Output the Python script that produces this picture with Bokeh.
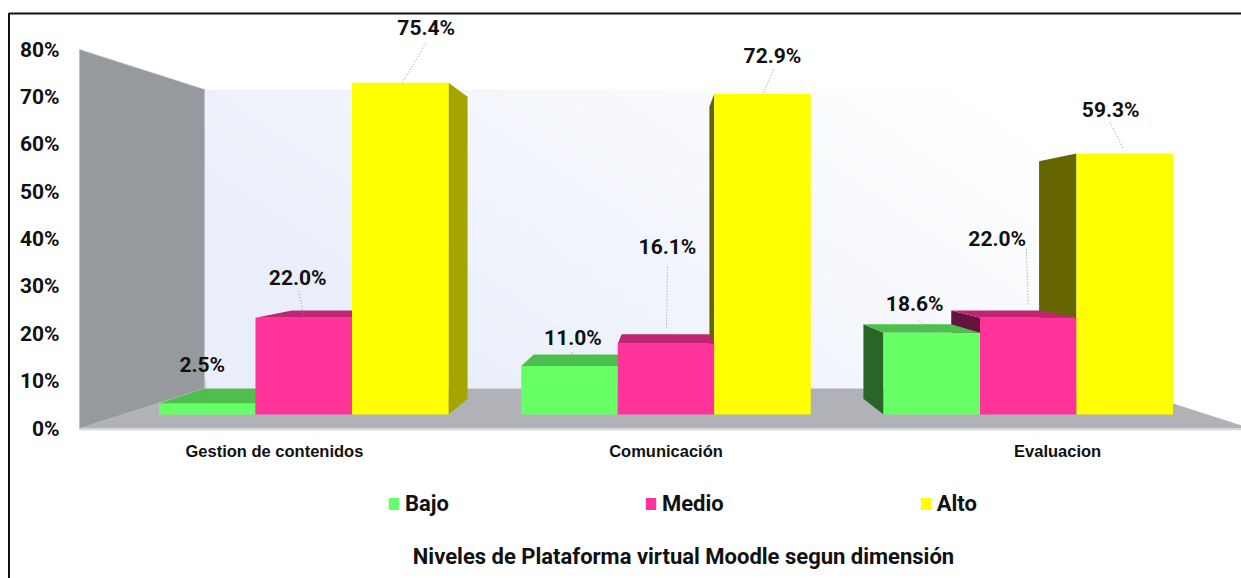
import numpy as np
from bokeh.embed import file_html
from bokeh.resources import INLINE
from bokeh.plotting import figure
from bokeh.core.properties import value
from bokeh.models import (BoxAnnotation, FixedTicker, Label,
                          Legend, LegendItem, LinearAxis, Range1d)

# ---- data -------------------------------------------------------------
categories = ["Gestion de contenidos", "Comunicación", "Evaluacion"]
series = ["Bajo", "Medio", "Alto"]
bajo = [2.5, 11.0, 18.6]
medio = [22.0, 16.1, 22.0]
alto = [75.4, 72.9, 59.3]
y_ticks = [0, 10, 20, 30, 40, 50, 60, 70, 80]
y_tick_labels = ["0%", "10%", "20%", "30%", "40%", "50%", "60%", "70%", "80%"]
colors = ["#66FF66", "#FF3399", "#FFFF00"]
values = [bajo, medio, alto]

# ---- layout: label offsets in px from the top-centre of each bar ---------
label_off = [[(-5, -39), (3.5, -28.6), (-17, -29)],
             [(-6, -40), (1.5, -97), (-31, -79)],
             [(26, -55), (10, -38), (-14, -44)]]
lead_a = [[(0, -1), (1, -4), (1, 0)],
          [(0, -2), (0.5, -16), (0, -14)],
          [(2, 0), (1, -1), (-2, -6)]]
lead_b = [[(-2, -25), (3, -15), (-15, -14)],
          [(-5, -27), (1.5, -78), (-2, -70)],
          [(26, -40), (11, -24), (-15, -32)]]

PAGE_W, PAGE_H = 1241, 578
AX_PX = 4.7375                              # axis px per percent
BASE_PX = 14.0                              # bar base above axis zero, px
BAR_PX = 4.4                                # bar px per percent on bar plane
VPX, VPY = 660.0, (428 - 238) / AX_PX       # vanishing point
K = 0.09                                    # depth of the box
X0, BW, GROUP = 158.5, 96.5, 362.25
FONT = "Roboto"


def py(px):
    """page pixel row -> axis value"""
    return (428 - px) / AX_PX


def front(v):
    return (BASE_PX + BAR_PX * v) / AX_PX


def back(x, y):
    return x + K * (VPX - x), y + K * (VPY - y)


p = figure(width=PAGE_W, height=PAGE_H, output_backend="svg", toolbar_location=None,
           x_range=Range1d(0, PAGE_W), y_range=Range1d(py(PAGE_H), py(0)),
           min_border=0, x_axis_location=None, y_axis_location=None,
           background_fill_color="white", border_fill_color="white")
p.outline_line_color = None
p.grid.visible = False

# ---- walls and floor -----------------------------------------------------
wall_l, wall_r = 204, 1126
wall_t, wall_b = 89, 388
h, w = 128, 256
yy, xx = np.mgrid[0:h, 0:w]
t = np.clip(xx / (w - 1) * 0.95 + yy / (h - 1) * 0.45 - 0.22, 0, 1)
img = np.zeros((h, w), dtype=np.uint32)
view = img.view(dtype=np.uint8).reshape((h, w, 4))
view[..., 0] = (0xE9 + t * (255 - 0xE9)).astype(np.uint8)
view[..., 1] = (0xEE + t * (255 - 0xEE)).astype(np.uint8)
view[..., 2] = (0xFA + t * (255 - 0xFA)).astype(np.uint8)
view[..., 3] = 255
p.image_rgba(image=[img], x=wall_l, y=py(wall_b), dw=wall_r - wall_l, dh=py(wall_t) - py(wall_b))

p.patch([79, 204, wall_r, 1251], [py(428), py(388), py(388), py(428)],
        fill_color="#B0B2B8", line_color=None)
p.line([79, 1241], [py(429), py(429)], line_color="#D4D5D8", line_width=1.5)
p.patch([79, 204, 204, 79], [py(49), py(89), py(388), py(428)],
        fill_color="#96999D", line_color="#B8BABD", line_width=0.6)


# ---- bars: tops and sides, farthest from the vanishing point first ---------
def shade(c, f):
    r, g, b = int(c[1:3], 16), int(c[3:5], 16), int(c[5:7], 16)
    return "#%02X%02X%02X" % (int(r * f), int(g * f), int(b * f))


boxes = []
for s in range(3):
    for g in range(3):
        left = X0 + g * GROUP + s * BW
        boxes.append((s, g, left, left + BW, values[s][g]))

for s, g, l, r, v in sorted(boxes, key=lambda b: -abs((b[2] + b[3]) / 2 - VPX)):
    base, top = front(0), front(v)
    col = colors[s]
    if l > VPX:
        bx, bty = back(l, top)
        _, bby = back(l, base)
        p.patch([l, bx, bx, l], [top, bty, bby, base], fill_color=shade(col, 0.4), line_color=None)
    if r < VPX:
        bx, bty = back(r, top)
        _, bby = back(r, base)
        p.patch([r, bx, bx, r], [top, bty, bby, base], fill_color=shade(col, 0.65), line_color=None)
    blx, by = back(l, top)
    brx, _ = back(r, top)
    if top < VPY:
        p.patch([l, r, brx, blx], [top, top, by, by], fill_color=shade(col, 0.75), line_color=None)

# ---- bars: front faces ----------------------------------------------------
renderers = []
for s in range(3):
    lefts = [X0 + g * GROUP + s * BW for g in range(3)]
    rights = [x + BW for x in lefts]
    tops = [front(v) for v in values[s]]
    bottoms = [front(0)] * 3
    renderers.append(p.quad(left=lefts, right=rights, top=tops, bottom=bottoms,
                            fill_color=colors[s], line_color=None))

# ---- data labels and leader lines -------------------------------------------
lx, ly, ltxt, xs, ys = [], [], [], [], []
for s in range(3):
    for g in range(3):
        v = values[s][g]
        cx = X0 + g * GROUP + (s + 0.5) * BW
        top = front(v)
        dx, dy = label_off[s][g]
        lx.append(cx + dx)
        ly.append(top - dy / AX_PX)
        ltxt.append("%.1f%%" % v)
        a, b = lead_a[s][g], lead_b[s][g]
        xs.append([cx + a[0], cx + b[0]])
        ys.append([top - a[1] / AX_PX, top - b[1] / AX_PX])
p.multi_line(xs, ys, line_color="#8A8A8A", line_width=0.9, line_dash="1 2")
p.text(x=lx, y=ly, text=ltxt, text_font=value(FONT), text_font_style="bold",
       text_font_size="21px", text_align="center", text_baseline="middle", text_color="#111111")

# ---- axes (fixed inside the single full-page frame) ----------------------------
ya = LinearAxis(ticker=FixedTicker(ticks=y_ticks), fixed_location=79,
                major_label_overrides=dict(zip(y_ticks, y_tick_labels)))
ya.axis_line_color = None
ya.major_tick_line_color = None
ya.minor_tick_line_color = None
ya.major_label_standoff = 14
ya.major_label_text_font = FONT
ya.major_label_text_font_style = "bold"
ya.major_label_text_font_size = "21px"
ya.major_label_text_color = "#111111"
p.add_layout(ya, "left")

cat_pos = [665.5 + (X0 + g * GROUP + 1.5 * BW - 665.5) * 1.081 for g in range(3)]
xa = LinearAxis(ticker=FixedTicker(ticks=cat_pos), fixed_location=py(432),
                major_label_overrides=dict(zip(cat_pos, categories)))
xa.axis_line_color = None
xa.major_tick_line_color = None
xa.minor_tick_line_color = None
xa.major_label_standoff = 3
xa.major_label_text_font = "Liberation Sans"
xa.major_label_text_font_style = "bold"
xa.major_label_text_font_size = "16.5px"
xa.major_label_text_color = "#111111"
p.add_layout(xa, "below")

# ---- legend --------------------------------------------------------------------
legend = Legend(items=[LegendItem(label=n, renderers=[r]) for n, r in zip(series, renderers)],
                orientation="horizontal", location=(387, 62), margin=0, padding=0,
                spacing=195, glyph_width=13, glyph_height=15, label_standoff=5,
                label_text_font=FONT, label_text_font_style="bold",
                label_text_font_size="22px", label_text_color="#111111",
                border_line_color=None, background_fill_alpha=0)
p.add_layout(legend, "center")

# ---- title and frame -------------------------------------------------------------
p.add_layout(Label(x=683, y=py(556), text="Niveles de Plataforma virtual Moodle segun dimensión",
                   text_font=FONT, text_font_style="bold", text_font_size="22px",
                   text_align="center", text_baseline="middle", text_color="#111111"))
p.add_layout(BoxAnnotation(left=8.5, right=1400, top=py(13), bottom=py(700), fill_alpha=0,
                           line_color="#111111", line_width=2, line_alpha=1))

open("out.html", "w").write(file_html(p, INLINE))
